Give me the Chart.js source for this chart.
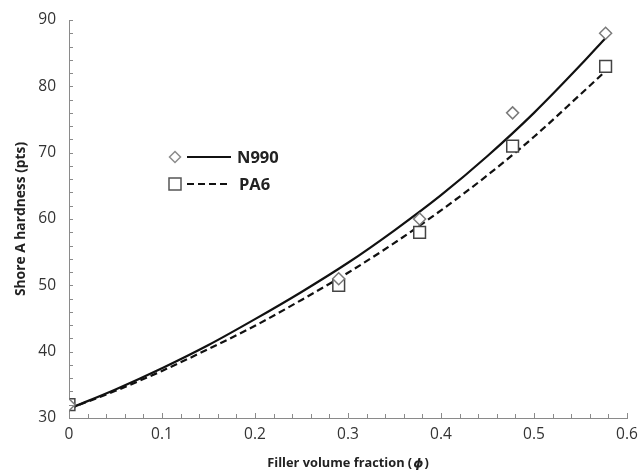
<!DOCTYPE html>
<html>
<head>
<meta charset="utf-8">
<script src="https://cdn.jsdelivr.net/npm/chart.js@4/dist/chart.umd.min.js"></script>
<style>
  html, body { margin: 0; padding: 0; background: #fff; }
  #wrap { width: 638px; height: 476px; position: relative; }
</style>
</head>
<body>
<div id="wrap"><canvas id="c" width="638" height="476"></canvas></div>
<script>
// ---- data ----
const n990X = [0, 0.29, 0.377, 0.477, 0.577];
const n990Y = [32, 51, 60, 76, 88];
const pa6X = [0, 0.29, 0.377, 0.477, 0.577];
const pa6Y = [32, 50, 58, 71, 83];
// fitted curves
const fitX = [0, 0.05, 0.1, 0.15, 0.2, 0.25, 0.3, 0.35, 0.4, 0.45, 0.5, 0.55, 0.577];
const n990Fit = [31.4, 34.3, 37.5, 41.0, 44.9, 49.0, 53.4, 58.3, 63.6, 69.5, 76.0, 83.2, 87.3];
const pa6Fit = [31.4, 34.1, 37.1, 40.4, 43.9, 47.8, 51.9, 56.4, 61.3, 66.6, 72.4, 78.8, 82.3];
const xTicks = [0, 0.1, 0.2, 0.3, 0.4, 0.5, 0.6];
const yTicks = [30, 40, 50, 60, 70, 80, 90];
const legendNames = ['N990', 'PA6'];
const xTitle = ['Filler volume fraction (', 'ϕ', ')'];
const yTitle = 'Shore A hardness (pts)';

const FONT = "'Open Sans', 'DejaVu Sans', sans-serif";
const toPts = (xs, ys) => xs.map((x, i) => ({ x: x, y: ys[i] }));

const extras = {
  id: 'extras',
  afterDraw(chart) {
    const ctx = chart.ctx;
    const xs = chart.scales.x, ys = chart.scales.y;
    const ca = chart.chartArea;
    ctx.save();
    // inward ticks
    ctx.strokeStyle = '#8a8a8a';
    ctx.lineWidth = 1;
    ctx.beginPath();
    for (let v = 30; v <= 90.001; v += 2) {
      const py = Math.round(ys.getPixelForValue(v)) + 0.5;
      ctx.moveTo(ca.left, py); ctx.lineTo(ca.left + 4, py);
    }
    for (let k = 0; k <= 30; k++) {
      const v = k * 0.02;
      const px = Math.round(xs.getPixelForValue(v)) + 0.5;
      const len = (k % 5 === 0) ? 5 : 4;
      ctx.moveTo(px, ca.bottom); ctx.lineTo(px, ca.bottom - len);
    }
    ctx.stroke();

    // x title with italic phi
    const ty = 463;
    const f1 = "bold 12.8px " + FONT, f2 = "bold italic 12.8px " + FONT;
    ctx.font = f1; const w1 = ctx.measureText(xTitle[0]).width; const w3 = ctx.measureText(xTitle[2]).width;
    ctx.font = f2; const w2 = ctx.measureText(xTitle[1]).width;
    const total = w1 + w2 + w3 + 2;
    let sx = (ca.left + ca.right) / 2 - total / 2;
    ctx.fillStyle = '#222';
    ctx.textBaseline = 'middle'; ctx.textAlign = 'left';
    ctx.font = f1; ctx.fillText(xTitle[0], sx, ty); sx += w1 + 1;
    ctx.font = f2; ctx.fillText(xTitle[1], sx, ty); sx += w2 + 1;
    ctx.font = f1; ctx.fillText(xTitle[2], sx, ty);

    // legend
    const rows = [
      { y: 157, style: 'diamond', dash: [], name: legendNames[0], tx: 237 },
      { y: 184, style: 'square', dash: [7, 4], name: legendNames[1], tx: 239 }
    ];
    rows.forEach(r => {
      ctx.setLineDash([]);
      ctx.lineWidth = 1.5;
      ctx.fillStyle = '#fff';
      if (r.style === 'diamond') {
        ctx.strokeStyle = '#8c8c8c';
        ctx.beginPath();
        ctx.moveTo(175, r.y - 5.5); ctx.lineTo(180.5, r.y); ctx.lineTo(175, r.y + 5.5); ctx.lineTo(169.5, r.y);
        ctx.closePath(); ctx.fill(); ctx.stroke();
      } else {
        ctx.strokeStyle = '#555';
        ctx.beginPath(); ctx.rect(169, r.y - 6, 12, 12); ctx.fill(); ctx.stroke();
      }
      ctx.strokeStyle = '#111';
      ctx.lineWidth = 2.2;
      ctx.setLineDash(r.dash);
      ctx.beginPath(); ctx.moveTo(187, r.y); ctx.lineTo(231, r.y); ctx.stroke();
      ctx.setLineDash([]);
      ctx.fillStyle = '#222';
      ctx.font = "bold 16.5px " + FONT;
      ctx.textAlign = 'left'; ctx.textBaseline = 'middle';
      ctx.fillText(r.name, r.tx, r.y + 1);
    });
    ctx.restore();
  }
};

new Chart(document.getElementById('c'), {
  type: 'scatter',
  data: {
    datasets: [
      { label: 'N990 fit', type: 'line', data: toPts(fitX, n990Fit), borderColor: '#111', borderWidth: 2.2,
        pointRadius: 0, cubicInterpolationMode: 'monotone', fill: false, order: 3 },
      { label: 'PA6 fit', type: 'line', data: toPts(fitX, pa6Fit), borderColor: '#111', borderWidth: 2.2,
        borderDash: [7, 4], pointRadius: 0, cubicInterpolationMode: 'monotone', fill: false, order: 4 },
      { label: 'PA6', data: toPts(pa6X, pa6Y), pointStyle: 'rect', pointRadius: 8.3,
        backgroundColor: '#fff', borderColor: '#444', borderWidth: 1.5, order: 2 },
      { label: 'N990', data: toPts(n990X, n990Y), pointStyle: 'rectRot', pointRadius: 6,
        backgroundColor: '#fff', borderColor: '#7a7a7a', borderWidth: 1.5, order: 1 }
    ]
  },
  options: {
    responsive: false,
    animation: false,
    layout: { padding: { left: 0, right: 0, top: 20, bottom: 0 } },
    plugins: { legend: { display: false }, tooltip: { enabled: false } },
    scales: {
      x: {
        type: 'linear', min: 0, max: 0.6,
        afterBuildTicks: s => { s.ticks = xTicks.map(v => ({ value: v })); },
        afterFit: s => { s.height = 58; s.paddingRight = 11; s.paddingLeft = 0; },
        grid: { display: true, drawOnChartArea: false, drawTicks: false },
        border: { display: true, color: '#8a8a8a', width: 1 },
        ticks: { padding: 7, color: '#333', font: { family: FONT, size: 15.5 },
          callback: v => String(v), maxRotation: 0 }
      },
      y: {
        type: 'linear', min: 30, max: 90,
        afterBuildTicks: s => { s.ticks = yTicks.map(v => ({ value: v })); },
        afterFit: s => { s.width = 69; s.paddingTop = 0; s.paddingBottom = 0; },
        grid: { display: true, drawOnChartArea: false, drawTicks: false },
        border: { display: true, color: '#8a8a8a', width: 1 },
        title: { display: true, text: yTitle, color: '#222', font: { family: FONT, size: 13.8, weight: 'bold' }, padding: { top: 13, bottom: 4 } },
        ticks: { padding: 13, color: '#333', font: { family: FONT, size: 15.5 } }
      }
    }
  },
  plugins: [extras]
});
</script>
</body>
</html>
